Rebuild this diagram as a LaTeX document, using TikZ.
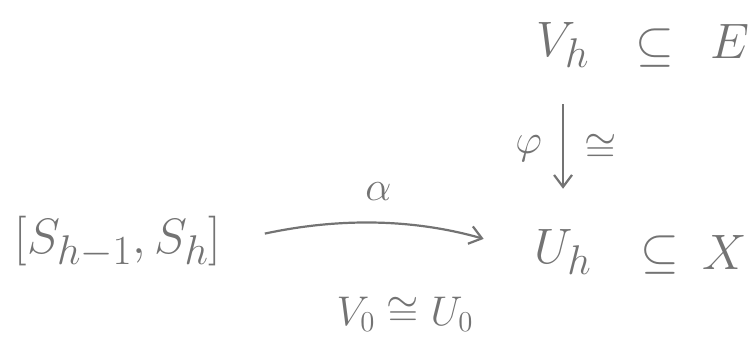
\documentclass[tikz,border=0pt]{standalone}
\usepackage{amsmath}
\usepackage{amssymb}
\usepackage{xcolor}
\usepackage{tikz}
\usetikzlibrary{arrows.meta,positioning}

\definecolor{pencil}{RGB}{115,115,115}

\begin{document}
\begin{tikzpicture}[
    x=0.5pt, y=-0.5pt,
    every node/.style={text=pencil, inner sep=2pt},
    obj/.style={font=\fontsize{32}{38}\selectfont},
    lbl/.style={font=\fontsize{22}{26}\selectfont},
    maparr/.style={-{Straight Barb[length=6pt,width=9pt]}, line width=1.1pt, draw=pencil}
  ]
    \useasboundingbox (0,0) rectangle (753,341);

    % ── top row ──
    \node[obj] (vh) at (563,45) {$V_h$};
    \node[obj] (sube) at (655,48) {$\subseteq$};
    \node[obj] (e) at (730,42) {$E$};

    % ── bottom row ──
    \node[obj] (interval) at (118,242) {$[S_{h-1},S_h]$};
    \node[obj] (uh) at (563,252) {$U_h$};
    \node[obj] (subx) at (660,255) {$\subseteq$};
    \node[obj] (x) at (725,252) {$X$};

    % ── maps ──
    \draw[maparr, shorten <=16pt, shorten >=18pt] (vh) -- (uh)
      node[midway, left=8pt, lbl] (phi) {$\varphi$}
      node[midway, right=8pt, lbl] (iso) {$\cong$};
    \draw[maparr, shorten <=20pt, shorten >=24pt] (interval.east) to[bend left=14]
      node[above=10pt, lbl] (alpha) {$\alpha$} (uh.west);

    % ── note below ──
    \node[lbl] (note) at (405,314) {$V_0 \cong U_0$};

  \end{tikzpicture}
\end{document}
